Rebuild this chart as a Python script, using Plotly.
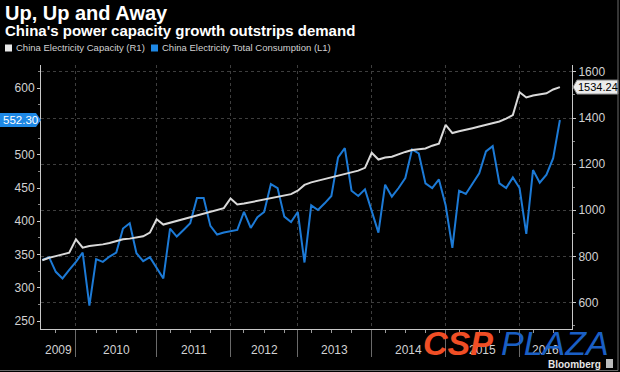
import plotly.graph_objects as go

# ---------------- data ----------------
months = (
    ["2009-%02d" % m for m in range(7, 13)]
    + ["2010-%02d" % m for m in range(1, 13)]
    + ["2011-%02d" % m for m in range(2, 13)]
    + ["2012-%02d" % m for m in [2, 3, 4, 5, 6, 7, 8, 9, 10, 12]]
    + ["2013-%02d" % m for m in range(2, 13)]
    + ["2014-%02d" % m for m in range(2, 13)]
    + ["2015-%02d" % m for m in range(2, 13)]
    + ["2016-%02d" % m for m in range(2, 8)]
)

# China Electricity Total Consumption (L1)
consumption = [
    342, 346, 324, 314, 327, 339,
    353, 273, 343, 339, 347, 353, 389, 397, 352, 340, 346, 329,
    314, 389, 377, 387, 397, 435, 435, 393, 380, 383, 385,
    387, 414, 390, 406, 414, 456, 450, 407, 399, 414,
    338, 424, 417, 427, 438, 496, 510, 446, 438, 448, 417,
    383, 455, 437, 450, 465, 508, 502, 457, 450, 463, 424,
    360, 446, 441, 457, 472, 505, 513, 457, 450, 466, 450,
    381, 477, 458, 470, 495, 552.30,
]

# China Electricity Capacity (R1)
capacity = [
    783, 794, 801, 807, 816, 874,
    838, 845, 848, 852, 858, 865, 874, 877, 881, 887, 903, 961,
    938, 946, 954, 963, 972, 980, 987, 994, 1001, 1009, 1051,
    1025, 1029, 1035, 1040, 1046, 1052, 1058, 1064, 1070, 1085,
    1110, 1121, 1128, 1136, 1143, 1150, 1157, 1164, 1172, 1184, 1249,
    1220, 1229, 1232, 1243, 1253, 1261, 1264, 1268, 1280, 1289, 1370,
    1335, 1343, 1348, 1356, 1363, 1370, 1378, 1385, 1397, 1413, 1512,
    1489, 1498, 1501, 1507, 1524, 1534.24,
]

left_ticks = [250, 300, 350, 400, 450, 500, 550, 600]
right_ticks = [600, 800, 1000, 1200, 1400, 1600]

cap_name = "China Electricity Capacity (R1)"
con_name = "China Electricity Total Consumption (L1)"
title = "Up, Up and Away"
subtitle = "China's power capacity growth outstrips demand"

# ---------------- layout helpers ----------------
W, H = 620, 372
ML, MR, MT, MB = 41, 48, 65, 43
PW = W - ML - MR
PH = H - MT - MB


def fx(px):
    return (px - ML) / PW


def fy(py):
    return (H - MB - py) / PH


FONT = "Liberation Sans"
BLUE = "#1c7ad6"
WHITE_LINE = "#d9d9d9"
GRID = "#3e3e3e"
AXIS = "#c8c8c8"
TXT = "#d2d2d2"

x = list(range(len(months)))
mon = [int(m[5:]) for m in months]
yrs = [m[:4] for m in months]
dec_idx = [i for i, m in enumerate(mon) if m == 12]
qtr_idx = [i for i, m in enumerate(mon) if m in (3, 6, 9)]
xr = [-0.2, len(months) - 1 + 1.8]

fig = go.Figure()
fig.add_trace(go.Scatter(x=x, y=capacity, name=cap_name, yaxis="y2", mode="lines",
                         line=dict(color=WHITE_LINE, width=2), showlegend=False))
fig.add_trace(go.Scatter(x=x, y=consumption, name=con_name, yaxis="y", mode="lines",
                         line=dict(color=BLUE, width=2), showlegend=False))

last_con = consumption[-1]
last_cap = capacity[-1]
lt = [v for v in left_ticks if abs(v - last_con) > 15]

fig.update_layout(
    width=W, height=H,
    margin=dict(l=ML, r=MR, t=MT, b=MB, pad=0),
    paper_bgcolor="black", plot_bgcolor="black",
    font=dict(family=FONT, color=TXT, size=12),
    showlegend=False,
    xaxis=dict(range=xr, showline=True, linecolor=AXIS, linewidth=1,
               tickmode="array", tickvals=dec_idx, ticks="outside", ticklen=27,
               tickcolor="#6a6a6a", showticklabels=False,
               showgrid=True, gridcolor=GRID, griddash="dot", gridwidth=1,
               zeroline=False,
               minor=dict(tickmode="array", tickvals=qtr_idx, ticks="outside",
                          ticklen=3, tickcolor="#9a9a9a", showgrid=False)),
    yaxis=dict(range=[238, 635], side="left", showline=True, linecolor=AXIS,
               tickmode="array", tickvals=lt, ticks="outside", ticklen=3,
               tickcolor=AXIS, tickfont=dict(size=12, color=TXT),
               showgrid=False, zeroline=False,
               minor=dict(tickmode="linear", tick0=0, dtick=25, ticks="outside",
                          ticklen=2, tickcolor="#888", showgrid=False)),
    yaxis2=dict(range=[485, 1630], side="right", overlaying="y", showline=True,
                linecolor=AXIS, tickmode="array", tickvals=right_ticks,
                ticks="outside", ticklen=3, tickcolor=AXIS,
                tickfont=dict(size=12, color=TXT),
                showgrid=True, gridcolor=GRID, griddash="dot", gridwidth=1,
                zeroline=False,
                minor=dict(tickmode="linear", tick0=0, dtick=100, ticks="outside",
                           ticklen=2, tickcolor="#888", showgrid=False)),
)

ann = []
shapes = []

# titles
ann.append(dict(text="<b>" + title + "</b>", x=fx(3), y=fy(13), xref="paper", yref="paper",
                xanchor="left", yanchor="middle", showarrow=False,
                font=dict(family=FONT, size=20, color="white")))
ann.append(dict(text="<b>" + subtitle + "</b>", x=fx(3), y=fy(31), xref="paper", yref="paper",
                xanchor="left", yanchor="middle", showarrow=False,
                font=dict(family=FONT, size=15, color="white")))

# legend (manual)
leg_y = 48
for sx, col, name in [(5, "#e8e8e8", cap_name), (151, "#1e88e5", con_name)]:
    shapes.append(dict(type="rect", xref="paper", yref="paper",
                       x0=fx(sx), x1=fx(sx + 7), y0=fy(leg_y - 3.5), y1=fy(leg_y + 3.5),
                       fillcolor=col, line=dict(width=0)))
    ann.append(dict(text=name, x=fx(sx + 9), y=fy(leg_y), xref="paper", yref="paper",
                    xanchor="left", yanchor="middle", showarrow=False,
                    font=dict(family=FONT, size=9.5, color=TXT)))

# year labels
years = sorted(set(yrs))
for yv in years:
    idxs = [i for i, v in enumerate(yrs) if v == yv]
    prev_dec = [d for d in dec_idx if d < idxs[0]]
    left = prev_dec[-1] if prev_dec else xr[0]
    this_dec = [d for d in dec_idx if idxs[0] <= d <= idxs[-1]]
    right = this_dec[-1] if this_dec else xr[1]
    ann.append(dict(text=yv, x=(left + right) / 2, y=fy(350), xref="x", yref="paper",
                    xanchor="center", yanchor="middle", showarrow=False,
                    font=dict(family=FONT, size=12, color=TXT)))

# value tags
shapes.append(dict(type="path", xref="paper", yref="y", xsizemode="pixel", ysizemode="pixel",
                   xanchor=0, yanchor=last_con,
                   path="M -41,-7 L -5,-7 L 0,0 L -5,7 L -41,7 Z",
                   fillcolor="#1e88e5", line=dict(width=0), layer="above"))
ann.append(dict(text=f"{last_con:.2f}", x=0, xref="paper", xshift=-21, y=last_con, yref="y",
                xanchor="center", yanchor="middle", showarrow=False,
                font=dict(family=FONT, size=11.5, color="white")))
shapes.append(dict(type="path", xref="paper", yref="y2", xsizemode="pixel", ysizemode="pixel",
                   xanchor=1, yanchor=last_cap,
                   path="M 1,0 L 5,-7 L 46,-7 L 46,7 L 5,7 Z",
                   fillcolor="#ececec", line=dict(width=1, color="#888"), layer="above"))
ann.append(dict(text=f"{last_cap:.2f}", x=1, xref="paper", xshift=25.5, y=last_cap, yref="y2",
                xanchor="center", yanchor="middle", showarrow=False,
                font=dict(family=FONT, size=11, color="black")))

# frame lines (right / bottom)
shapes.append(dict(type="line", xref="paper", yref="paper", x0=fx(618), x1=fx(618),
                   y0=fy(0), y1=fy(370.5), line=dict(color="#6a6a6a", width=1)))
shapes.append(dict(type="line", xref="paper", yref="paper", x0=fx(0), x1=fx(618),
                   y0=fy(370.5), y1=fy(370.5), line=dict(color="#6a6a6a", width=1)))

# watermark
ann.append(dict(text="<b><i>CSP</i></b>", x=fx(421), y=fy(343), xref="paper", yref="paper",
                xanchor="left", yanchor="middle", showarrow=False,
                font=dict(family=FONT, size=34, color="#f04e25")))
ann.append(dict(text="<i>PLAZA</i>", x=fx(499), y=fy(343), xref="paper", yref="paper",
                xanchor="left", yanchor="middle", showarrow=False,
                font=dict(family=FONT, size=34, color="#1a5fc4")))

# Bloomberg credit
ann.append(dict(text="<b>Bloomberg</b>", x=fx(603), y=fy(364), xref="paper", yref="paper",
                xanchor="right", yanchor="middle", showarrow=False,
                font=dict(family=FONT, size=10, color="#e6e6e6")))
shapes.append(dict(type="rect", xref="paper", yref="paper", x0=fx(606), x1=fx(613),
                   y0=fy(359), y1=fy(368), fillcolor="#bdbdbd", line=dict(width=0)))

fig.update_layout(annotations=ann, shapes=shapes)
fig.write_html("out.html", config={"displayModeBar": False},
               post_script="document.body.style.margin='0';document.body.style.padding='0';"
                           "document.body.style.background='black';")
